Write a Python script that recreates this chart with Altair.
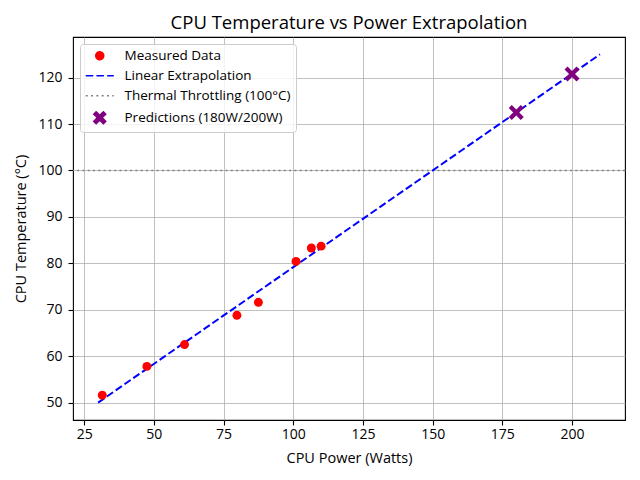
import altair as alt
import pandas as pd

# ---- data ----
measured_power = [31.5, 47.5, 61.0, 79.8, 87.5, 101.0, 106.5, 110.0]
measured_temp = [51.6, 57.8, 62.5, 68.8, 71.6, 80.4, 83.3, 83.7]
fit_power = [30.0, 210.0]
fit_temp = [50.0, 125.0]
pred_power = [180.0, 200.0]
pred_temp = [112.5, 120.8]
throttle_temp = [100.0]
x_ticks = [25, 50, 75, 100, 125, 150, 175, 200]
y_ticks = [50, 60, 70, 80, 90, 100, 110, 120]
series_names = [
    "Measured Data",
    "Linear Extrapolation",
    "Thermal Throttling (100°C)",
    "Predictions (180W/200W)",
]

# ---- style ----
FONT = "Open Sans"
X_PATH = ("M-1.5,-0.9L-0.9,-1.5L0,-0.6L0.9,-1.5L1.5,-0.9L0.6,0"
          "L1.5,0.9L0.9,1.5L0,0.6L-0.9,1.5L-1.5,0.9L-0.6,0Z")
LINE_PATH = "M-3.5,0L3.5,0"

fill_scale = alt.Scale(domain=series_names,
                       range=["#ff0000", "transparent", "transparent", "#800080"])
stroke_scale = alt.Scale(domain=series_names,
                         range=["#ff0000", "#0000ff", "#808080", "#800080"])
shape_scale = alt.Scale(domain=series_names,
                        range=["circle", LINE_PATH, LINE_PATH, X_PATH])
dash_scale = alt.Scale(domain=series_names,
                       range=[[1, 0], [7.5, 3.2], [2, 3.3], [1, 0]])

measured_df = pd.DataFrame({"power": measured_power, "temp": measured_temp,
                            "series": series_names[0]})
fit_df = pd.DataFrame({"power": fit_power, "temp": fit_temp,
                       "series": series_names[1]})
throttle_df = pd.DataFrame({"temp": throttle_temp, "series": series_names[2]})
pred_df = pd.DataFrame({"power": pred_power, "temp": pred_temp,
                        "series": series_names[3]})

x_enc = alt.X("power:Q", title="CPU Power (Watts)",
              scale=alt.Scale(domain=[21, 219], nice=False, zero=False),
              axis=alt.Axis(values=x_ticks))
y_enc = alt.Y("temp:Q", title="CPU Temperature (°C)",
              scale=alt.Scale(domain=[46.25, 128.75], nice=False, zero=False),
              axis=alt.Axis(values=y_ticks))

legend = alt.Legend(title=None)

fit_layer = alt.Chart(fit_df).mark_line(strokeWidth=2).encode(
    x=x_enc, y=y_enc,
    stroke=alt.Stroke("series:N", scale=stroke_scale, legend=legend),
    strokeDash=alt.StrokeDash("series:N", scale=dash_scale, legend=legend),
)

throttle_layer = alt.Chart(throttle_df).mark_rule(strokeWidth=1.5).encode(
    y=y_enc,
    stroke=alt.Stroke("series:N", scale=stroke_scale, legend=legend),
    strokeDash=alt.StrokeDash("series:N", scale=dash_scale, legend=legend),
)

measured_layer = alt.Chart(measured_df).mark_point(
    filled=True, size=80, opacity=1, strokeWidth=0).encode(
    x=x_enc, y=y_enc,
    fill=alt.Fill("series:N", scale=fill_scale, legend=legend),
    stroke=alt.Stroke("series:N", scale=stroke_scale, legend=legend),
    shape=alt.Shape("series:N", scale=shape_scale, legend=legend),
)

pred_layer = alt.Chart(pred_df).mark_point(
    filled=True, size=100, opacity=1, strokeWidth=0).encode(
    x=x_enc, y=y_enc,
    fill=alt.Fill("series:N", scale=fill_scale, legend=legend),
    stroke=alt.Stroke("series:N", scale=stroke_scale, legend=legend),
    shape=alt.Shape("series:N", scale=shape_scale, legend=legend),
)

chart = alt.layer(
    throttle_layer, fit_layer, measured_layer, pred_layer
).properties(
    width=552,
    height=383,
    autosize=alt.AutoSizeParams(type="none"),
    padding={"left": 65, "top": 29, "right": 7, "bottom": 52},
    title=alt.Title("CPU Temperature vs Power Extrapolation",
                    font=FONT, fontSize=18.5, fontWeight="normal",
                    color="black", offset=5, anchor="middle"),
).configure_view(
    stroke="black", strokeWidth=1.1,
).configure_axis(
    labelFont=FONT, labelFontSize=14, labelColor="black",
    titleFont=FONT, titleFontSize=14.5, titleColor="black", titleFontWeight="normal",
    grid=True, gridColor="#b0b0b0", gridWidth=0.8,
    domain=False, tickColor="black", tickWidth=1.1, tickSize=5,
).configure_axisX(
    labelPadding=2, titlePadding=10,
).configure_axisY(
    labelPadding=6, titlePadding=9,
).configure_legend(
    orient="top-left", offset=7, padding=5,
    fillColor="rgba(255,255,255,0.8)", strokeColor="#cccccc", cornerRadius=3,
    labelFont=FONT, labelFontSize=13.5, labelColor="black", labelLimit=400,
    symbolSize=64, symbolStrokeWidth=1.5, symbolOffset=8, labelOffset=18,
    rowPadding=5,
)

chart.save("out.html", embed_options={"renderer": "svg", "actions": False})
